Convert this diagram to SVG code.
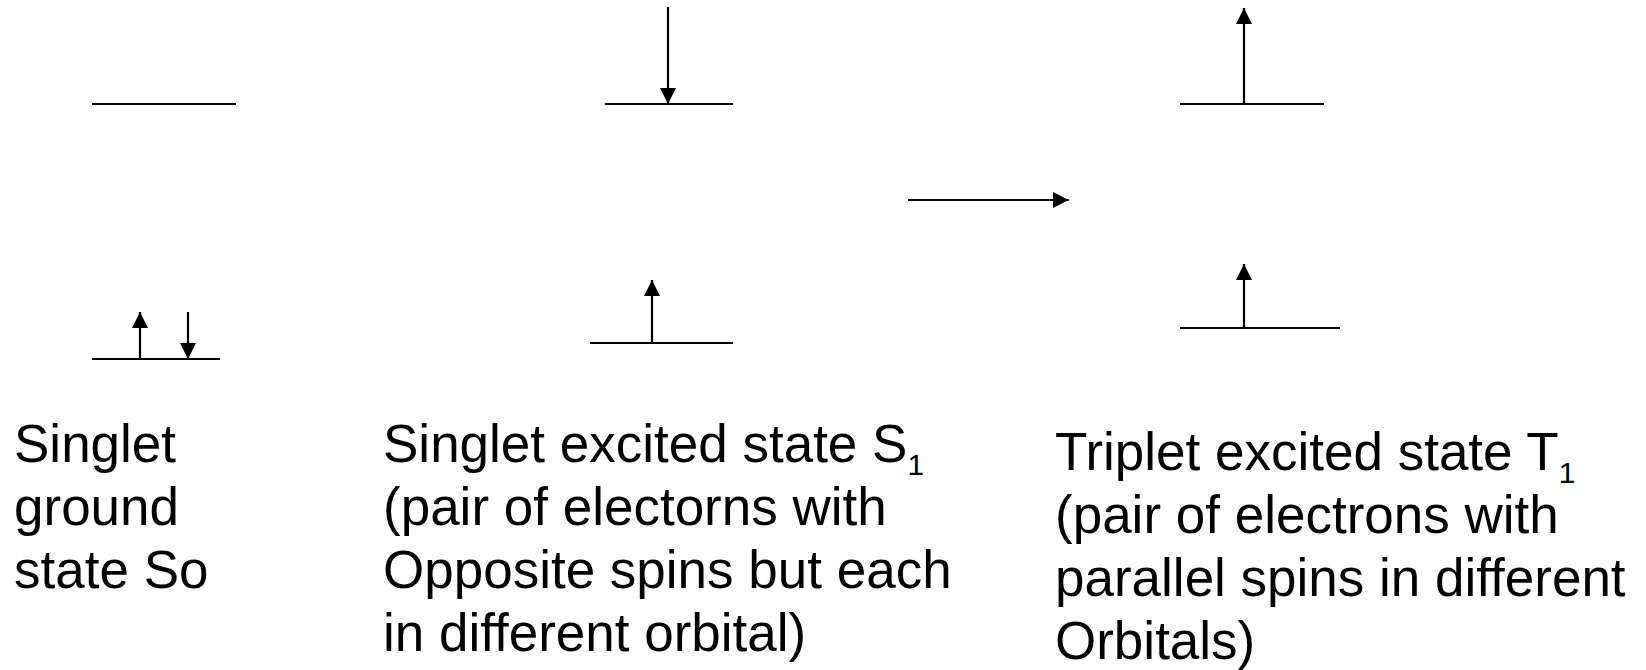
<svg xmlns="http://www.w3.org/2000/svg" width="1646" height="670" viewBox="0 0 1646 670">
<style>
.lvl{stroke:#000;stroke-width:2.2;fill:none}
.spin{stroke:#000;stroke-width:2.2;fill:none;marker-end:url(#ah)}
.t{font-family:"Liberation Sans",Arial,sans-serif;font-size:53px;fill:#000}
.sub{font-size:30px}
</style>
<defs>
<marker id="ah" markerUnits="userSpaceOnUse" markerWidth="17" markerHeight="17" refX="16" refY="8" orient="auto">
<path d="M0,0 L16,8 L0,16 z" fill="#000"/>
</marker>
</defs>
<rect width="1646" height="670" fill="#fff"/>
<g id="S0">
<line class="lvl" x1="92" y1="104" x2="236" y2="104"/>
<line class="lvl" x1="92" y1="359" x2="220" y2="359"/>
<line class="spin" x1="140" y1="359" x2="140" y2="312"/>
<line class="spin" x1="188" y1="312" x2="188" y2="359"/>
<text class="t"><tspan x="14" y="462">Singlet</tspan><tspan x="14" y="525">ground</tspan><tspan x="14" y="588">state So</tspan></text>
</g>
<g id="S1">
<line class="lvl" x1="605" y1="104" x2="733" y2="104"/>
<line class="lvl" x1="590" y1="343" x2="733" y2="343"/>
<line class="spin" x1="668" y1="7" x2="668" y2="104"/>
<line class="spin" x1="652" y1="343" x2="652" y2="280"/>
<text class="t"><tspan x="383" y="462">Singlet excited state S</tspan><tspan class="sub" dy="13">1</tspan><tspan x="383" y="525">(pair of electorns with</tspan><tspan x="383" y="588">Opposite spins but each</tspan><tspan x="383" y="651">in different orbital)</tspan></text>
</g>
<g id="T1">
<line class="lvl" x1="1180" y1="104" x2="1324" y2="104"/>
<line class="lvl" x1="1180" y1="328" x2="1340" y2="328"/>
<line class="spin" x1="1244" y1="104" x2="1244" y2="8"/>
<line class="spin" x1="1244" y1="328" x2="1244" y2="264"/>
<text class="t"><tspan x="1055" y="470">Triplet excited state T</tspan><tspan class="sub" dy="13">1</tspan><tspan x="1055" y="533">(pair of electrons with</tspan><tspan x="1055" y="596">parallel spins in different</tspan><tspan x="1055" y="659">Orbitals)</tspan></text>
</g>
<g id="connectors">
<line class="spin" x1="908" y1="200" x2="1069" y2="200"/>
</g>
</svg>
